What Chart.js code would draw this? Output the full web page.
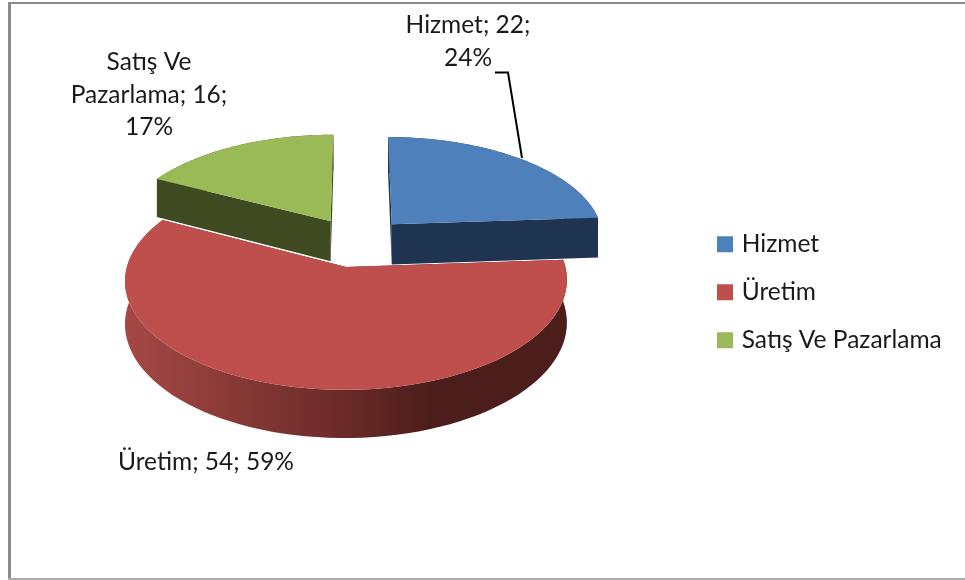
<!DOCTYPE html>
<html><head><meta charset="utf-8">
<style>html,body{margin:0;padding:0;background:#fff}#w{width:965px;height:580px}</style>
<script src="https://cdn.jsdelivr.net/npm/chart.js@4"></script>
</head><body><div id="w"><canvas id="c" width="965" height="580"></canvas></div>
<script>
const categories = ['Hizmet', 'Üretim', 'Satış Ve Pazarlama'];
const values = [22, 54, 16];
const faceColors = ['#4e80bc', '#be4f4c', '#9aba58'];
const sideColors = ['#1f3450', '#4c1e1b', '#404a20'];
const FONT_FAMILY = 'Lato, "Open Sans", sans-serif';
const FONT_SIZE = 24.5;
const VIEW = {cx: 357, cy: 242, kx: 1, ky: 0.477, persp: 0.12, depth: 41};
const total = values.reduce((s, v) => s + v, 0);

// perspective projection of a point on the tilted pie plane (u,v are in units of radius)
function project(R, u, v, z) {
  const w = 1 - VIEW.persp * v;
  return [VIEW.cx + R * VIEW.kx * u / w, VIEW.cy + (R * VIEW.ky * v + z * VIEW.depth) / w];
}
function geom(a) {
  const mid = (a.startAngle + a.endAngle) / 2, e = a.options.offset / a.outerRadius;
  const ox = e * Math.cos(mid), oy = e * Math.sin(mid), R = a.outerRadius;
  const arc = z => {
    const pts = [], n = 80;
    for (let i = 0; i <= n; i++) {
      const t = a.startAngle + (a.endAngle - a.startAngle) * i / n;
      pts.push(project(R, ox + Math.cos(t), oy + Math.sin(t), z));
    }
    return pts;
  };
  return {oy, apex: z => project(R, ox, oy, z), arc, R, ox};
}
function poly(ctx, pts, fill) {
  ctx.beginPath();
  pts.forEach((p, i) => i ? ctx.lineTo(p[0], p[1]) : ctx.moveTo(p[0], p[1]));
  ctx.closePath();
  ctx.fillStyle = fill;
  ctx.fill();
}
const pie3d = {
  id: 'pie3d',
  afterLayout(chart) {
    const l = chart.legend, pad = l.options.labels.padding;
    l.left = 720.5 - pad; l.top = 232 - pad;
  },
  beforeDatasetsDraw(chart) {
    const ctx = chart.ctx, arcs = chart.getDatasetMeta(0).data;
    const order = arcs.map((a, i) => i).sort((p, q) => geom(arcs[p]).oy - geom(arcs[q]).oy);
    ctx.save();
    for (const i of order) {
      const a = arcs[i], g = geom(a);
      const top = g.arc(0), bottom = g.arc(1), A0 = g.apex(0), A1 = g.apex(1);
      const n = top.length - 1;
      poly(ctx, [A0, top[0], bottom[0], A1], sideColors[i]);
      poly(ctx, [A0, top[n], bottom[n], A1], sideColors[i]);
      let fill = sideColors[i];
      if (i === 1) {
        fill = ctx.createLinearGradient(125, 0, 565, 0);
        fill.addColorStop(0, '#a54845');
        fill.addColorStop(0.5, '#6a2a28');
        fill.addColorStop(0.69, '#4c1e1b');
        fill.addColorStop(1, '#4c1e1b');
      }
      poly(ctx, top.concat(bottom.slice().reverse()), fill);
      poly(ctx, [A0].concat(top), faceColors[i]);
    }
    ctx.restore();
    return false;
  },
  beforeDraw(chart) {
    const ctx = chart.ctx;
    ctx.save();
    ctx.fillStyle = '#fff'; ctx.fillRect(0, 0, 965, 580);
    ctx.fillStyle = '#8a8a8a';
    ctx.fillRect(8, 2, 957, 2);
    ctx.fillRect(8, 2, 3, 578);
    ctx.fillStyle = '#ababab';
    ctx.fillRect(8, 578, 957, 2);
    ctx.restore();
  },
  afterDraw(chart) {
    const ctx = chart.ctx;
    const pct = values.map(v => Math.round(v / total * 100) + '%');
    const lab = i => categories[i] + '; ' + values[i] + ';';
    const blocks = [
      {x: 468, y: 33, lines: [lab(0), pct[0]]},
      {x: 206, y: 470, lines: [lab(1) + ' ' + pct[1]]},
      {x: 149, y: 70, lines: ['Satış Ve', 'Pazarlama; ' + values[2] + ';', pct[2]]}
    ];
    ctx.save();
    ctx.font = FONT_SIZE + 'px ' + FONT_FAMILY; ctx.fillStyle = '#1a1a1a'; ctx.textAlign = 'center'; ctx.textBaseline = 'alphabetic';
    blocks.forEach(b => b.lines.forEach((t, k) => ctx.fillText(t, b.x, b.y + k * 32.5)));
    // leader line from the Hizmet label to its slice
    ctx.strokeStyle = '#000'; ctx.lineWidth = 2;
    ctx.beginPath(); ctx.moveTo(495, 72.5); ctx.lineTo(508, 72.5); ctx.lineTo(522, 158); ctx.stroke();
    ctx.restore();
  }
};
new Chart(document.getElementById('c'), {
  type: 'pie',
  data: {labels: categories, datasets: [{data: values, backgroundColor: faceColors, borderColor: faceColors, borderWidth: 7, offset: 52}]},
  plugins: [pie3d],
  options: {
    responsive: false, animation: false, events: [],
    radius: 213,
    plugins: {
      tooltip: {enabled: false},
      legend: {
        position: 'right', align: 'start',
        labels: {boxWidth: 9, boxHeight: 9, padding: 23.5, color: '#1a1a1a',
                 font: {family: FONT_FAMILY, size: FONT_SIZE}}
      }
    }
  }
});
</script></body></html>
